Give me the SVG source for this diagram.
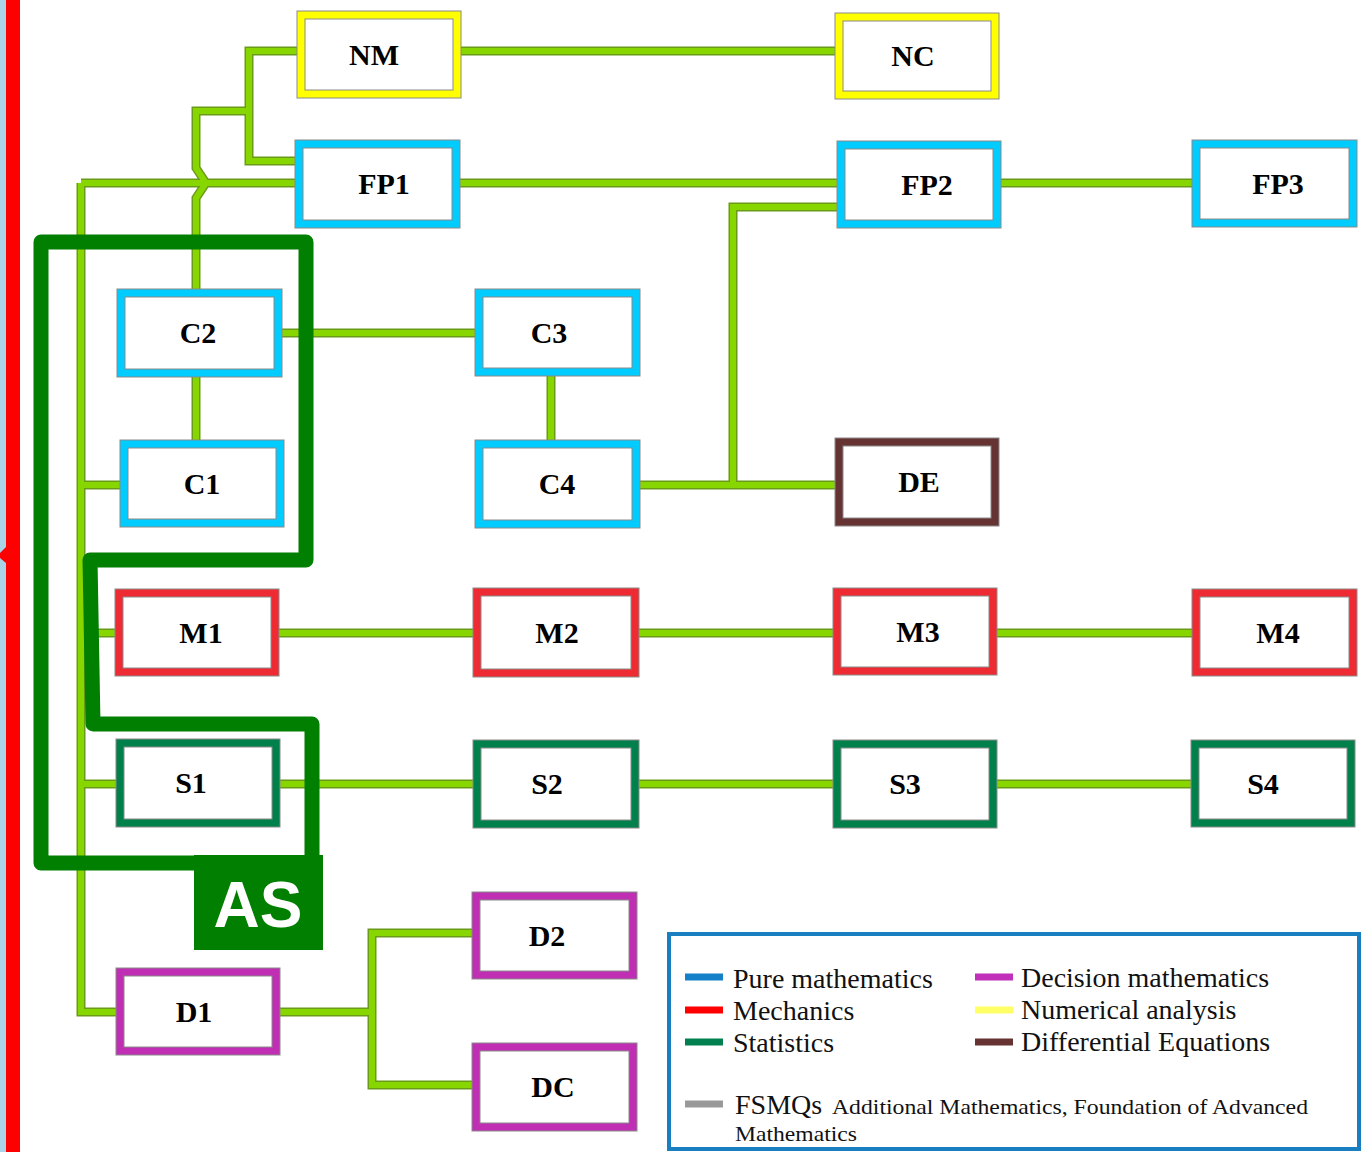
<svg xmlns="http://www.w3.org/2000/svg" xmlns:xlink="http://www.w3.org/1999/xlink" width="1363" height="1152" viewBox="0 0 1363 1152">
<style>
.o{stroke:#8a8a8a;stroke-width:1}
.i{fill:#fff;stroke:#8a8a8a;stroke-width:1}
.pure{fill:#00CCFF}
.num{fill:#FFFF00}
.mech{fill:#EE2A33}
.stat{fill:#00804B}
.dec{fill:#C02FB3}
.de{fill:#663333}
.lbl{font-family:"Liberation Serif","Times New Roman",serif;font-weight:bold;font-size:30px;fill:#000;text-anchor:middle}
.wo{fill:none;stroke:#6A9A1A;stroke-width:9;stroke-linejoin:miter}
.wf{fill:none;stroke:#88D600;stroke-width:6;stroke-linejoin:miter}
.lg{font-family:"Liberation Serif","Times New Roman",serif;font-size:28px;fill:#111}
.sm{font-size:21px}
.sw{stroke-width:7}
</style>
<defs>
<path id="w" d="M461,51 H835 M297,51 H249 V161 H295 M249,111 H196 V168 L206,183 L196,198 V289 M81,183 H295 M460,183 H837 M1001,183 H1192 M81,183 V1012 H116 M81,485 H120 M81,633 H115 M81,784 H116 M196,377 V440 M282,333 H475 M551,376 V440 M640,485 H835 M733,485 V207 H837 M279,633 H473 M639,633 H833 M997,633 H1192 M280,784 H473 M639,784 H833 M997,784 H1191 M280,1012 H372 M472,933 H372 V1085 H472"/>
</defs>
<rect x="0" y="0" width="1363" height="1152" fill="#fff"/>
<rect x="0" y="0" width="6" height="1152" fill="#A9D3E8"/>
<rect x="6" y="0" width="14" height="1152" fill="#FF0000"/>
<polygon points="6,547 0,553 0,558 6,563" fill="#FF0000"/>
<g id="connectors">
<use xlink:href="#w" href="#w" class="wo"/>
<use xlink:href="#w" href="#w" class="wf"/>
</g>
<g id="as-outline">
<path d="M194,863 H41 V242 H306 V560 H90 L93,724 H312 V858" fill="none" stroke="#007F00" stroke-width="15" stroke-linejoin="round"/>
<rect x="194" y="855" width="129" height="95" fill="#007F00"/>
<text x="258" y="927" font-family="'Liberation Sans',Arial,sans-serif" font-weight="bold" font-size="64" fill="#fff" text-anchor="middle">AS</text>
</g>
<g id="NM"><rect class="o num" x="297" y="11" width="164" height="87"/><rect class="i" x="305" y="19" width="148" height="71"/><text class="lbl" x="374" y="65">NM</text></g>
<g id="NC"><rect class="o num" x="835" y="13" width="164" height="86"/><rect class="i" x="843" y="21" width="148" height="70"/><text class="lbl" x="913" y="66">NC</text></g>
<g id="FP1"><rect class="o pure" x="295" y="140" width="165" height="88"/><rect class="i" x="303" y="148" width="149" height="72"/><text class="lbl" x="384" y="194">FP1</text></g>
<g id="FP2"><rect class="o pure" x="837" y="141" width="164" height="87"/><rect class="i" x="845" y="149" width="148" height="71"/><text class="lbl" x="927" y="195">FP2</text></g>
<g id="FP3"><rect class="o pure" x="1192" y="140" width="165" height="87"/><rect class="i" x="1200" y="148" width="149" height="71"/><text class="lbl" x="1278" y="194">FP3</text></g>
<g id="C2"><rect class="o pure" x="117" y="289" width="165" height="88"/><rect class="i" x="125" y="297" width="149" height="72"/><text class="lbl" x="198" y="343">C2</text></g>
<g id="C1"><rect class="o pure" x="120" y="440" width="164" height="87"/><rect class="i" x="128" y="448" width="148" height="71"/><text class="lbl" x="202" y="494">C1</text></g>
<g id="C3"><rect class="o pure" x="475" y="289" width="165" height="87"/><rect class="i" x="483" y="297" width="149" height="71"/><text class="lbl" x="549" y="343">C3</text></g>
<g id="C4"><rect class="o pure" x="475" y="440" width="165" height="88"/><rect class="i" x="483" y="448" width="149" height="72"/><text class="lbl" x="557" y="494">C4</text></g>
<g id="DE"><rect class="o de" x="835" y="438" width="164" height="88"/><rect class="i" x="843" y="446" width="148" height="72"/><text class="lbl" x="919" y="492">DE</text></g>
<g id="M1"><rect class="o mech" x="115" y="589" width="164" height="87"/><rect class="i" x="123" y="597" width="148" height="71"/><text class="lbl" x="201" y="643">M1</text></g>
<g id="M2"><rect class="o mech" x="473" y="588" width="166" height="89"/><rect class="i" x="481" y="596" width="150" height="73"/><text class="lbl" x="557" y="643">M2</text></g>
<g id="M3"><rect class="o mech" x="833" y="588" width="164" height="87"/><rect class="i" x="841" y="596" width="148" height="71"/><text class="lbl" x="918" y="642">M3</text></g>
<g id="M4"><rect class="o mech" x="1192" y="589" width="165" height="87"/><rect class="i" x="1200" y="597" width="149" height="71"/><text class="lbl" x="1278" y="643">M4</text></g>
<g id="S1"><rect class="o stat" x="116" y="739" width="164" height="88"/><rect class="i" x="124" y="747" width="148" height="72"/><text class="lbl" x="191" y="793">S1</text></g>
<g id="S2"><rect class="o stat" x="473" y="740" width="166" height="88"/><rect class="i" x="481" y="748" width="150" height="72"/><text class="lbl" x="547" y="794">S2</text></g>
<g id="S3"><rect class="o stat" x="833" y="740" width="164" height="88"/><rect class="i" x="841" y="748" width="148" height="72"/><text class="lbl" x="905" y="794">S3</text></g>
<g id="S4"><rect class="o stat" x="1191" y="740" width="164" height="87"/><rect class="i" x="1199" y="748" width="148" height="71"/><text class="lbl" x="1263" y="794">S4</text></g>
<g id="D1"><rect class="o dec" x="116" y="968" width="164" height="87"/><rect class="i" x="124" y="976" width="148" height="71"/><text class="lbl" x="194" y="1022">D1</text></g>
<g id="D2"><rect class="o dec" x="472" y="892" width="165" height="87"/><rect class="i" x="480" y="900" width="149" height="71"/><text class="lbl" x="547" y="946">D2</text></g>
<g id="DC"><rect class="o dec" x="472" y="1043" width="165" height="88"/><rect class="i" x="480" y="1051" width="149" height="72"/><text class="lbl" x="553" y="1097">DC</text></g>
<g id="legend">
<rect x="669" y="934" width="690" height="215" fill="#fff" stroke="#1A7FC1" stroke-width="4"/>
<line class="sw" x1="685" y1="977" x2="723" y2="977" stroke="#1480C8"/>
<line class="sw" x1="685" y1="1010" x2="723" y2="1010" stroke="#FF0000"/>
<line class="sw" x1="685" y1="1042" x2="723" y2="1042" stroke="#00804F"/>
<line class="sw" x1="975" y1="977" x2="1013" y2="977" stroke="#C030B8"/>
<line class="sw" x1="975" y1="1010" x2="1013" y2="1010" stroke="#FFFF66"/>
<line class="sw" x1="975" y1="1042" x2="1013" y2="1042" stroke="#663333"/>
<line class="sw" x1="685" y1="1104" x2="723" y2="1104" stroke="#999999"/>
<text class="lg" x="733" y="988">Pure mathematics</text>
<text class="lg" x="733" y="1020">Mechanics</text>
<text class="lg" x="733" y="1052">Statistics</text>
<text class="lg" x="1021" y="987">Decision mathematics</text>
<text class="lg" x="1021" y="1019">Numerical analysis</text>
<text class="lg" x="1021" y="1051">Differential Equations</text>
<text class="lg" x="735" y="1114">FSMQs</text>
<text class="lg sm" x="832" y="1114" textLength="476" lengthAdjust="spacingAndGlyphs">Additional Mathematics, Foundation of Advanced</text>
<text class="lg sm" x="735" y="1141" textLength="122" lengthAdjust="spacingAndGlyphs">Mathematics</text>
</g>
</svg>
